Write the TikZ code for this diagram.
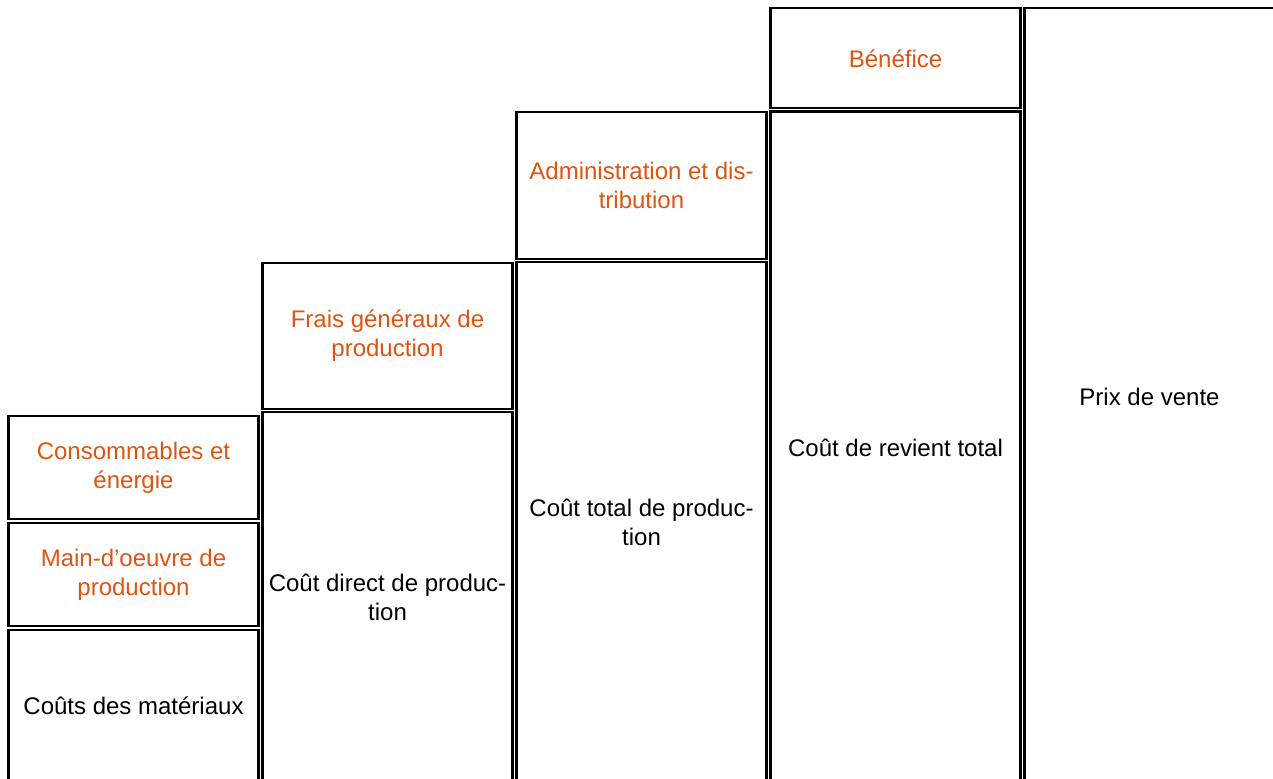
\documentclass[tikz,border=0pt]{standalone}
\usepackage{fontspec}
\setmainfont{Liberation Sans}
\definecolor{costorange}{RGB}{224,83,17}
\tikzset{
  costbox/.style={draw=black,line width=1.2pt},
  costlabel/.style={align=center,font=\fontsize{12}{14.5}\selectfont,text=black},
  extralabel/.style={costlabel,text=costorange}
}
\begin{document}
\begin{tikzpicture}[x=0.5pt,y=-0.5pt]
                \useasboundingbox (0,0) rectangle (1273,778);
                \clip (0,0) rectangle (1273,778);
                % column 1
                \draw[costbox] (8.5,416) rectangle (258.5,519);
                \draw[costbox] (8.5,523) rectangle (258.5,626);
                \draw[costbox] (8.5,630) rectangle (258.5,782);
                \node[extralabel] (conso) at (133.5,467.5) {Consommables et\\énergie};
                \node[extralabel] (mainoeuvre) at (133.5,574.5) {Main-d’oeuvre de\\production};
                \node[costlabel] (materiaux) at (133.5,706) {Coûts des matériaux};
                % column 2
                \draw[costbox] (262.5,263) rectangle (512.5,409);
                \draw[costbox] (262.5,412) rectangle (512.5,782);
                \node[extralabel] (fraisgen) at (387.5,336) {Frais généraux de\\production};
                \node[costlabel] (coutdirect) at (387.5,597) {Coût direct de produc-\\tion};
                % column 3
                \draw[costbox] (516.5,112) rectangle (766.5,259);
                \draw[costbox] (516.5,262) rectangle (766.5,782);
                \node[extralabel] (admin) at (641.5,185) {Administration et dis-\\tribution};
                \node[costlabel] (couttotal) at (641.5,522) {Coût total de produc-\\tion};
                % column 4
                \draw[costbox] (770.5,8) rectangle (1020.5,108);
                \draw[costbox] (770.5,111.5) rectangle (1020.5,782);
                \node[extralabel] (benefice) at (895.5,59) {Bénéfice};
                \node[costlabel] (revient) at (895.5,448) {Coût de revient total};
                % column 5
                \draw[costbox] (1024.5,8) rectangle (1274.5,782);
                \node[costlabel] (prixvente) at (1149.5,397) {Prix de vente};
\end{tikzpicture}
\end{document}
